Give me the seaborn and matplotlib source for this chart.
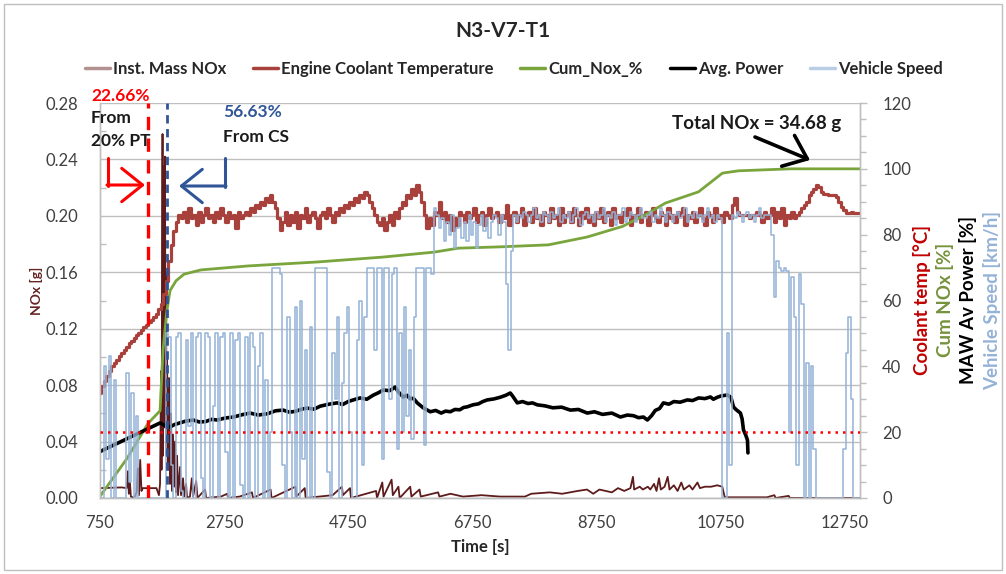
import numpy as np
import pandas as pd
import matplotlib
matplotlib.use("Agg")
import matplotlib.pyplot as plt
import seaborn as sns
from matplotlib.lines import Line2D
from matplotlib.patches import Rectangle

sns.set_theme(style="white")
plt.rcParams["font.family"] = ["Lato", "DejaVu Sans"]

W, H = 1006, 574

# ---------------------------------------------------------------- data
title = "N3-V7-T1"
x_ticks = [750, 2750, 4750, 6750, 8750, 10750, 12750]

# Coolant temperature [degC] and vehicle speed [km/h], logged every 40 s from t = 750 s
grid_start, grid_step = 750, 40
coolant_temp = [
    32, 34, 35.5, 37, 38.5, 40, 41, 42, 43, 44,
    45, 46, 47, 47.8, 48.6, 49.4, 50.2, 51, 51.8, 52.6,
    53.4, 54.2, 55, 56, 57.5, 59, 62, 66, 72, 77,
    81, 84, 86, 85, 87, 84, 88, 85, 86, 83,
    87, 84, 86, 88, 85, 86, 84, 87, 85, 88,
    86, 84, 87, 85, 86, 82, 87, 85, 86, 87,
    86, 88, 87, 89, 88, 90, 89, 91, 90, 92,
    90, 88, 85, 81.5, 84, 87, 83, 86, 84, 87,
    82, 86, 85, 88, 84, 86, 87, 85, 82, 86,
    87, 85, 88, 86, 84, 87, 86, 88, 87, 89,
    88, 90, 89, 91, 90, 92, 91, 93, 92, 90,
    88, 86, 84, 83, 85, 81.5, 84, 86, 83, 87,
    85, 88, 90, 89, 92, 91, 94, 92, 95, 93,
    90, 86, 82, 85, 83, 87, 86, 90, 85, 87,
    84, 86, 81.5, 85, 83, 87, 86, 84, 87, 85,
    86, 88, 84, 86, 87, 83, 86, 88, 85, 86,
    87, 84, 86, 85, 89, 83, 86, 87, 84, 86,
    88, 83, 86, 87, 84, 88, 85, 86, 83, 87,
    86, 84, 88, 85, 86, 83, 88, 84, 86, 87,
    84, 88, 86, 83, 87, 85, 88, 84, 86, 83,
    87, 85, 88, 84, 86, 87, 83, 88, 85, 86,
    84, 87, 86, 88, 83, 86, 85, 88, 84, 86,
    87, 83, 86, 88, 85, 84, 87, 86, 83, 88,
    85, 86, 84, 87, 86, 88, 83, 86, 85, 87,
    84, 86, 88, 85, 83, 87, 86, 84, 88, 85,
    86, 84, 87, 86, 85, 89, 91, 87, 86, 86,
    86, 86, 85, 86, 86, 87, 86, 84, 87, 85,
    86, 88, 84, 87, 85, 88, 83, 86, 85, 87,
    85, 86, 87, 88, 89, 90, 92, 93, 94, 95,
    94.5, 93, 92.5, 92.5, 92, 92, 92, 91.5, 90, 88.5,
    87.5, 86.5, 86.5, 87, 86.5, 86.5, 86.5,
]
vehicle_speed = [
    0, 0, 40, 12, 43, 0, 36, 0, 0, 0,
    0, 38, 5, 32, 0, 25, 0, 0, 0, 0,
    0, 0, 0, 0, 0, 0, 0, 50, 49, 10,
    0, 49, 50, 2, 0, 48, 22, 50, 0, 49,
    50, 6, 0, 50, 49, 0, 28, 50, 0, 49,
    50, 14, 0, 50, 0, 48, 50, 4, 0, 49,
    0, 50, 46, 0, 40, 50, 0, 36, 0, 20,
    70, 70, 70, 68, 10, 0, 55, 20, 0, 58,
    0, 60, 12, 45, 0, 52, 0, 70, 70, 70,
    70, 70, 8, 0, 44, 30, 55, 0, 35, 50,
    58, 20, 0, 0, 48, 60, 10, 55, 70, 70,
    70, 45, 70, 70, 12, 70, 70, 30, 68, 70,
    15, 50, 20, 58, 25, 45, 18, 55, 70, 70,
    70, 16, 70, 70, 68, 88, 86, 82, 85, 78,
    84, 80, 86, 76, 82, 85, 79, 84, 78, 86,
    80, 84, 76, 83, 86, 81, 85, 79, 84, 86,
    85, 80, 86, 84, 65, 45, 75, 86, 84, 86,
    85, 87, 86, 84, 86, 88, 85, 86, 84, 87,
    86, 84, 87, 85, 86, 88, 84, 86, 85, 87,
    84, 86, 88, 85, 83, 86, 87, 85, 86, 84,
    87, 85, 86, 88, 84, 86, 85, 87, 83, 86,
    86, 88, 84, 85, 87, 86, 84, 86, 88, 85,
    85, 86, 87, 84, 86, 85, 88, 86, 84, 87,
    86, 84, 86, 87, 85, 86, 88, 84, 86, 85,
    87, 85, 86, 84, 86, 88, 85, 86, 84, 86,
    85, 0, 0, 50, 10, 86, 85, 87, 86, 84,
    86, 87, 85, 86, 84, 86, 88, 85, 86, 86,
    86, 80, 61, 72, 70, 69, 70, 69, 20, 67,
    55, 10, 68, 59, 0, 41, 0, 40, 15, 0,
    0, 0, 0, 0, 0, 0, 0, 0, 0, 0,
    15, 44, 55, 30, 0, 0, 0,
]

# Instantaneous NOx mass [g]: event log (time [s], mass)
nox_time = [
    750, 1100, 1180, 1200, 1215, 1232, 1248, 1300, 1340, 1360, 1378, 1398, 1418, 1440,
    1660, 1700, 1718, 1734, 1742, 1758, 1766, 1782, 1790, 1798, 1806, 1815, 1823, 1831,
    1847, 1863, 1879, 1895, 1911, 1927, 1944, 1960, 1976, 1992, 2008, 2040, 2056, 2089,
    2105, 2137, 2153, 2200, 2230, 2250, 2300, 2320, 2444, 2460, 2700, 2800, 2815, 3000,
    3200, 3215, 3500, 3515, 3900, 3915, 4050, 4065, 4500, 4650, 4665, 4780, 4795, 5200,
    5215, 5300, 5320, 5450, 5470, 5560, 5580, 5750, 5770, 5900, 5920, 6200, 6220, 6400,
    6600, 6900, 7200, 7600, 7700, 8000, 8200, 8450, 8600, 8700, 8800, 9000, 9100, 9200,
    9300, 9340, 9360, 9450, 9500, 9580, 9620, 9680, 9720, 9760, 9790, 9850, 9900, 9930,
    10000, 10060, 10120, 10160, 10250, 10300, 10380, 10420, 10500, 10600, 10700, 10780,
    10820, 11500, 11620, 11640, 11850, 11870, 12990,
]
nox_mass = [
    0.007, 0.0075, 0.007, 0.019, 0.003, 0.011, 0.001, 0.0, 0.004, 0.021, 0.002, 0.027, 0.005, 0.007,
    0.007, 0.002, 0.010, 0.090, 0.020, 0.258, 0.030, 0.235, 0.050, 0.242, 0.060, 0.160, 0.030, 0.100,
    0.020, 0.085, 0.010, 0.060, 0.005, 0.045, 0.008, 0.040, 0.004, 0.030, 0.002, 0.022, 0.002, 0.014,
    0.001, 0.010, 0.0, 0.001, 0.014, 0.001, 0.012, 0.0, 0.006, 0.0, 0.001, 0.003, 0.0, 0.001,
    0.004, 0.0, 0.006, 0.0, 0.008, 0.001, 0.007, 0.0, 0.002, 0.008, 0.002, 0.007, 0.0, 0.005,
    0.0, 0.011, 0.001, 0.013, 0.002, 0.008, 0.0, 0.008, 0.001, 0.006, 0.001, 0.004, 0.001, 0.003,
    0.001, 0.002, 0.001, 0.001, 0.003, 0.004, 0.003, 0.005, 0.006, 0.003, 0.006, 0.004, 0.007, 0.005,
    0.007, 0.015, 0.006, 0.008, 0.006, 0.008, 0.006, 0.010, 0.005, 0.014, 0.006, 0.008, 0.015, 0.006,
    0.009, 0.005, 0.011, 0.006, 0.009, 0.006, 0.011, 0.007, 0.008, 0.008, 0.009, 0.008,
    0.0005, 0.0005, 0.002, 0.0, 0.0015, 0.0, 0.0,
]

# Cumulative NOx [% of total]
cum_time = [750, 1185, 1524, 1718, 1766, 1826, 1879, 1976, 2105, 2379, 3137, 4250, 5315,
            6137, 6525, 7202, 7976, 8605, 9170, 9540, 9863, 10396, 10783, 11041, 11880, 13000]
cum_nox = [0.5, 12, 22.66, 26.5, 45, 56.63, 63, 66, 68, 69.3, 70.5, 71.7, 73.2,
           74.7, 75.9, 76.3, 76.9, 79.3, 82.5, 86, 89.6, 93, 98.7, 99.4, 100, 100]

# Moving-average window power [%]
power_time = [750, 1718, 1800, 1879, 1950, 2000, 2120, 2250, 2350, 2450, 2550, 2637, 2770,
              2900, 3040, 3170, 3300, 3450, 3580, 3702, 3800, 3900, 4000, 4089, 4200, 4300,
              4440, 4573, 4660, 4750, 4850, 4944, 5050, 5150, 5240, 5315, 5420, 5508, 5560,
              5637, 5700, 5750, 5800, 5863, 5960, 6073, 6160, 6250, 6320, 6396, 6470, 6550,
              6610, 6670, 6760, 6850, 6920, 6992, 7100, 7200, 7290, 7363, 7400, 7476, 7560,
              7650, 7720, 7799, 7920, 8050, 8190, 8331, 8460, 8605, 8720, 8850, 9000, 9138,
              9250, 9350, 9430, 9509, 9573, 9640, 9700, 9770, 9831, 9920, 10000, 10100,
              10218, 10300, 10400, 10500, 10589, 10637, 10700, 10760, 10863, 10920, 10960,
              11000, 11073, 11100, 11122, 11160, 11186, 11194]
avg_power = [14.1, 22.8, 22.0, 21.6, 22.3, 22.6, 23.3, 23.7, 23.1, 23.2, 23.9, 23.7, 24.3,
             24.6, 25.3, 25.8, 25.2, 25.6, 26.5, 26.7, 26.1, 26.3, 27.0, 27.3, 27.0, 27.9,
             28.5, 28.9, 28.4, 29.3, 29.9, 30.4, 30.0, 31.2, 32.0, 32.8, 32.6, 33.7, 32.2,
             30.7, 31.2, 30.1, 30.3, 28.9, 27.4, 26.2, 26.6, 25.8, 26.4, 26.2, 26.9, 26.8,
             27.5, 27.7, 28.3, 28.6, 29.3, 29.8, 30.1, 30.6, 31.2, 31.9, 31.0, 28.9, 29.3,
             28.7, 28.9, 28.3, 28.0, 27.4, 27.6, 26.7, 26.9, 25.8, 26.2, 25.4, 25.8, 24.6,
             25.2, 25.0, 24.4, 24.6, 23.7, 25.0, 26.6, 27.2, 28.9, 28.5, 29.3, 29.1,
             29.8, 29.6, 30.4, 30.2, 30.7, 30.0, 30.6, 31.0, 31.3, 30.6, 27.7,
             26.9, 25.8, 24.0, 20.7, 19.0, 17.6, 13.7]

pt_time, pt_share = 1524, 22.66      # 20 % power threshold crossing
cs_time, cs_share = 1826, 56.63      # cold start end
power_threshold = 20
total_nox = 34.68

# ---------------------------------------------------------------- frames
coolant_df = pd.DataFrame({"time": grid_start + grid_step * np.arange(len(coolant_temp)),
                           "value": coolant_temp})
speed_df = pd.DataFrame({"time": grid_start + grid_step * np.arange(len(vehicle_speed)),
                         "value": vehicle_speed})
nox_df = pd.DataFrame({"time": nox_time, "value": nox_mass})
cum_df = pd.DataFrame({"time": cum_time, "value": cum_nox})
power_df = pd.DataFrame({"time": power_time, "value": avg_power})

# ---------------------------------------------------------------- colours
C_NOX = "#5E1B1B"
C_NOX_KEY = "#B39191"
C_COOL = "#A8403B"
C_CUM = "#7AA53D"
C_POW = "#000000"
C_SPD = "#95B3D7"
C_SPD_KEY = "#B9CDE5"
C_GRID = "#BFBFBF"
C_TICK = "#404040"
C_BLUE = "#2F5597"

# ---------------------------------------------------------------- figure
fig = plt.figure(figsize=(W / 100, H / 100), dpi=100)
fig.patch.set_facecolor("white")
ax = fig.add_axes([100 / W, 1 - 498 / H, 760 / W, 395 / H])
ax2 = ax.twinx()

sns.lineplot(data=nox_df, x="time", y="value", ax=ax, color=C_NOX, lw=1.3,
             estimator=None, sort=False, legend=False)
sns.lineplot(data=coolant_df, x="time", y="value", ax=ax2, color=C_COOL, lw=2.3,
             estimator=None, sort=False, legend=False, drawstyle="steps-mid")
sns.lineplot(data=cum_df, x="time", y="value", ax=ax2, color=C_CUM, lw=2.0,
             estimator=None, sort=False, legend=False)
sns.lineplot(data=power_df, x="time", y="value", ax=ax2, color=C_POW, lw=2.6,
             estimator=None, sort=False, legend=False)
sns.lineplot(data=speed_df, x="time", y="value", ax=ax2, color=C_SPD, lw=1.1,
             estimator=None, sort=False, legend=False, drawstyle="steps-mid")

# reference lines
ax2.axvline(pt_time, color="#FF0000", lw=2.4, ls=(0, (4, 2.5)), zorder=6)
ax2.axvline(cs_time, color=C_BLUE, lw=2.0, ls=(0, (3, 2)), zorder=6)
ax2.axhline(power_threshold, color="#FF0000", lw=1.8, ls=(0, (1, 2)), zorder=6)

# axes limits, ticks, grid
ax.set_xlim(750, 13000)
ax.set_ylim(0, 0.28)
ax2.set_ylim(0, 120)
ax.set_xticks(x_ticks)
ax.set_yticks(np.arange(0, 0.281, 0.04))
ax.set_yticks(np.arange(0.02, 0.281, 0.04), minor=True)
ax.yaxis.set_major_formatter(matplotlib.ticker.FormatStrFormatter("%.2f"))
ax2.set_yticks(np.arange(0, 121, 20))
ax2.set_yticks(np.arange(0, 121, 5), minor=True)
ax.grid(axis="y", which="major", color=C_GRID, lw=1.0)
ax.grid(axis="x", visible=False)
ax2.grid(False)
ax.set_axisbelow(True)

ax.tick_params(axis="y", which="major", length=0, pad=16, labelsize=12, labelcolor=C_TICK)
ax.tick_params(axis="y", which="minor", direction="in", length=4, color=C_GRID, width=1)
ax.tick_params(axis="x", length=0, pad=12, labelsize=12, labelcolor=C_TICK)
ax2.tick_params(axis="y", which="major", direction="out", length=5, color=C_GRID, width=1,
                pad=11, labelsize=12, labelcolor=C_TICK)
ax2.tick_params(axis="y", which="minor", direction="out", length=4, color=C_GRID, width=1)
for a in (ax, ax2):
    for sp in a.spines.values():
        sp.set_color(C_GRID)
        sp.set_linewidth(1.0)
    a.spines["top"].set_visible(False)
    a.set_xlabel("")
    a.set_ylabel("")

def fxy(px, py):
    return px / W, 1 - py / H

# titles and axis labels
fig.text(*fxy(503, 31), title, ha="center", va="center", fontsize=15, fontweight="bold",
         color="#262626")
fig.text(*fxy(480, 547), "Time [s]", ha="center", va="center", fontsize=12,
         fontweight="bold", color="#262626")
fig.text(*fxy(36, 291), "NOx [g]", ha="center", va="center", rotation=90, fontsize=10,
         fontweight="bold", color="#632523")
for px, txt, col in [(922, "Coolant temp [°C]", "#C00000"),
                     (945, "Cum NOx [%]", "#76923C"),
                     (968, "MAW Av Power [%]", "#000000"),
                     (992, "Vehicle Speed [km/h]", "#95B3D7")]:
    fig.text(*fxy(px, 300), txt, ha="center", va="center", rotation=90, fontsize=13.5,
             fontweight="bold", color=col)

# legend
handles = [Line2D([], [], color=C_NOX_KEY, lw=2.5),
           Line2D([], [], color=C_COOL, lw=2.5),
           Line2D([], [], color=C_CUM, lw=2.5),
           Line2D([], [], color=C_POW, lw=2.5),
           Line2D([], [], color=C_SPD_KEY, lw=2.5)]
labels = ["Inst. Mass NOx", "Engine Coolant Temperature", "Cum_Nox_%", "Avg. Power",
          "Vehicle Speed"]
fig.legend(handles, labels, loc="center", bbox_to_anchor=fxy(514, 69), ncol=5,
           frameon=False, handlelength=1.5, handletextpad=0.2, columnspacing=1.6,
           prop={"size": 12, "weight": "bold"}, labelcolor="#262626")

# annotations
ann = dict(fontsize=12.5, fontweight="bold", ha="left", va="center")
fig.text(*fxy(91, 96), f"{pt_share:.2f}%", color="#FF0000", **ann)
fig.text(*fxy(91, 118), "From", color="#1A1A1A", **ann)
fig.text(*fxy(91, 141), "20% PT", color="#1A1A1A", **ann)
fig.text(*fxy(223, 112), f"{cs_share:.2f}%", color=C_BLUE, **ann)
fig.text(*fxy(223, 137), "From CS", color="#1A1A1A", **ann)
fig.text(*fxy(757, 124), f"Total NOx = {total_nox:.2f} g", color="#1A1A1A",
         fontsize=13.5, fontweight="bold", ha="center", va="center")

def fpx(px, py):
    return px, H - py

head = "->,head_length=0.5,head_width=0.4"
fig.add_artist(Line2D([108 / W, 108 / W], [1 - 158 / H, 1 - 186 / H], color="#FF0000",
                      lw=2.2, transform=fig.transFigure))
ax2.annotate("", xy=fpx(145, 185), xycoords="figure pixels", xytext=fpx(107, 185),
             textcoords="figure pixels",
             arrowprops=dict(arrowstyle=head, color="#FF0000", lw=2.2, mutation_scale=30,
                             shrinkA=0, shrinkB=0))
fig.add_artist(Line2D([225 / W, 225 / W], [1 - 158 / H, 1 - 187 / H], color=C_BLUE,
                      lw=2.2, transform=fig.transFigure))
ax2.annotate("", xy=fpx(179, 186), xycoords="figure pixels", xytext=fpx(226, 186),
             textcoords="figure pixels",
             arrowprops=dict(arrowstyle=head, color=C_BLUE, lw=2.2, mutation_scale=30,
                             shrinkA=0, shrinkB=0))
ax2.annotate("", xy=fpx(810, 160), xycoords="figure pixels", xytext=fpx(755, 137),
             textcoords="figure pixels",
             arrowprops=dict(arrowstyle=head, color="#000000", lw=2.6, mutation_scale=30,
                             shrinkA=0, shrinkB=0))

# chart frame
fig.add_artist(Rectangle((4 / W, 4 / H), 998 / W, 566 / H, transform=fig.transFigure,
                         fill=False, ec="#BFBFBF", lw=1.0))

fig.savefig("out.png", dpi=100, facecolor="white")
